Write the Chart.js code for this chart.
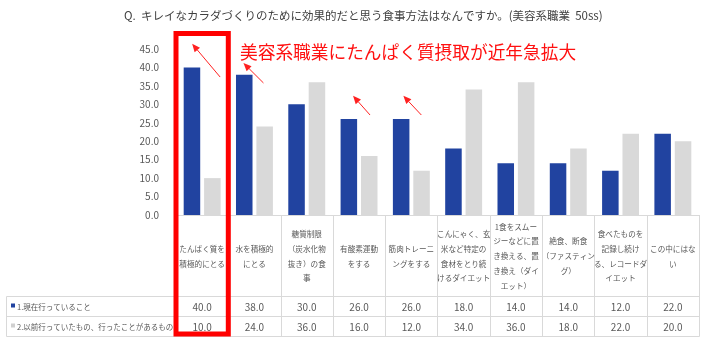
<!DOCTYPE html>
<html>
<head>
<meta charset="utf-8">
<script src="https://cdn.jsdelivr.net/npm/chart.js@4.4.1/dist/chart.umd.min.js"></script>
<style>
html,body{margin:0;padding:0;background:#fff;}
canvas{display:block;}
</style>
</head>
<body>
<canvas id="c" width="710" height="350"></canvas>
<script>
// ---- data ----
const categories = [
  ['たんぱく質を','積極的にとる'],
  ['水を積極的','にとる'],
  ['糖質制限','（炭水化物','抜き）の食','事'],
  ['有酸素運動','をする'],
  ['筋肉トレーニ','ングをする'],
  ['こんにゃく、玄','米など特定の','食材をとり続','けるダイエット'],
  ['1食をスムー','ジーなどに置','き換える、置','き換え（ダイ','エット）'],
  ['絶食、断食','（ファスティン','グ）'],
  ['食べたものを','記録し続け','る、レコードダ','イエット'],
  ['この中にはな','い']
];
const seriesNames = ['1.現在行っていること', '2.以前行っていたもの、行ったことがあるもの'];
const currentValues = [40, 38, 30, 26, 26, 18, 14, 14, 12, 22];
const pastValues = [10, 24, 36, 16, 12, 34, 36, 18, 22, 20];
const titleText = 'Q.  キレイなカラダづくりのために効果的だと思う食事方法はなんですか。(美容系職業  50ss)';
const noteText = '美容系職業にたんぱく質摂取が近年急拡大';

const BLUE = '#2143a0';
const GRAY = '#d9d9d9';
const FONT = '"Noto Sans CJK JP", "Noto Sans", sans-serif';

// arrows: category index, offsets (px) from category centre, values on y scale
const arrows = [
  {cat:0, hx:-10, hv:46.4, tx:18, tv:37.4},
  {cat:1, hx:-11, hv:41.2, tx:9, tv:35.8},
  {cat:3, hx:-6, hv:32.3, tx:11, tv:27.1},
  {cat:4, hx:-8, hv:32.3, tx:10, tv:27.1}
];

const tablePlugin = {
  id: 'tablePlugin',
  afterDraw(chart) {
    const ctx = chart.ctx;
    const xs = chart.scales.x, ys = chart.scales.y;
    const ca = chart.chartArea;
    const n = categories.length;
    const w = (xs.getPixelForValue(1) - xs.getPixelForValue(0));
    const bound = i => xs.getPixelForValue(0) - w/2 + i*w;
    const top = ca.bottom, hdrBottom = 296.5, r1 = 316.5, r2 = 336.5;
    const tableLeft = 6.5;
    ctx.save();
    // grid lines
    ctx.strokeStyle = '#d9d9d9';
    ctx.lineWidth = 1;
    ctx.beginPath();
    for (let i = 0; i <= n; i++) {
      const x = Math.round(bound(i)) + 0.5;
      ctx.moveTo(x, top); ctx.lineTo(x, r2);
    }
    ctx.moveTo(tableLeft, hdrBottom); ctx.lineTo(tableLeft, r2);
    [hdrBottom, r1, r2].forEach(y => { ctx.moveTo(tableLeft, y); ctx.lineTo(Math.round(bound(n))+0.5, y); });
    ctx.stroke();

    // header labels
    ctx.fillStyle = '#595959';
    ctx.textAlign = 'center';
    ctx.textBaseline = 'middle';
    ctx.font = '7.6px ' + FONT;
    const lh = 14.8;
    const midY = (top + hdrBottom) / 2 + 0.5;
    categories.forEach((lines, i) => {
      const cx = xs.getPixelForValue(i);
      const y0 = midY - (lines.length - 1) * lh / 2;
      lines.forEach((l, k) => ctx.fillText(l, cx, y0 + k*lh));
    });

    // values
    ctx.font = '10px ' + FONT;
    const rowY = [(hdrBottom + r1)/2 + 0.5, (r1 + r2)/2 + 0.5];
    [currentValues, pastValues].forEach((vals, r) => {
      vals.forEach((v, i) => ctx.fillText(v.toFixed(1), xs.getPixelForValue(i), rowY[r]));
    });

    // row labels with markers
    ctx.textAlign = 'left';
    ctx.font = '7.5px ' + FONT;
    [BLUE, '#d0d0d0'].forEach((col, r) => {
      ctx.fillStyle = col;
      ctx.fillRect(11, rowY[r] - 3.5, 4, 4);
      ctx.fillStyle = '#595959';
      ctx.fillText(seriesNames[r], 17, rowY[r]);
    });

    // title
    ctx.fillStyle = '#404040';
    ctx.font = '11.5px ' + FONT;
    ctx.textAlign = 'left';
    ctx.fillText(titleText, 124, 15.5);

    // red note
    ctx.fillStyle = '#ff1010';
    ctx.font = '17.7px ' + FONT;
    ctx.fillText(noteText, 240, 52);

    // red box around first category
    ctx.strokeStyle = '#ff0000';
    ctx.lineWidth = 5;
    ctx.strokeRect(bound(0), 33.5, bound(1) - bound(0), 334 - 33.5);

    // arrows
    ctx.strokeStyle = '#ff2020';
    ctx.fillStyle = '#ff2020';
    ctx.lineWidth = 1;
    arrows.forEach(a => {
      const cx = xs.getPixelForValue(a.cat);
      const hx = cx + a.hx, hy = ys.getPixelForValue(a.hv);
      const tx = cx + a.tx, ty = ys.getPixelForValue(a.tv);
      const ang = Math.atan2(hy - ty, hx - tx);
      const L = 8, W = 3.5;
      const bx = hx - L*Math.cos(ang), by = hy - L*Math.sin(ang);
      ctx.beginPath(); ctx.moveTo(tx, ty); ctx.lineTo(bx, by); ctx.stroke();
      ctx.beginPath();
      ctx.moveTo(hx, hy);
      ctx.lineTo(bx + W*Math.sin(ang), by - W*Math.cos(ang));
      ctx.lineTo(bx - W*Math.sin(ang), by + W*Math.cos(ang));
      ctx.closePath(); ctx.fill();
    });
    ctx.restore();
  }
};

new Chart(document.getElementById('c'), {
  type: 'bar',
  data: {
    labels: categories,
    datasets: [
      {label: seriesNames[0], data: currentValues, backgroundColor: BLUE, categoryPercentage: 0.78, barPercentage: 0.81},
      {label: seriesNames[1], data: pastValues, backgroundColor: GRAY, categoryPercentage: 0.78, barPercentage: 0.81}
    ]
  },
  options: {
    responsive: false,
    animation: false,
    devicePixelRatio: 1,
    layout: {padding: {top: 49, right: 11, left: 0, bottom: 0}},
    plugins: {legend: {display: false}, tooltip: {enabled: false}, title: {display: false}},
    scales: {
      x: {
        grid: {display: false},
        border: {display: true, color: '#d9d9d9', width: 1},
        ticks: {display: false},
        afterFit(a) { a.height = 135; }
      },
      y: {
        min: 0, max: 45,
        grid: {display: false},
        border: {display: false},
        ticks: {
          stepSize: 5,
          padding: 9,
          color: '#595959',
          font: {family: FONT, size: 10},
          callback: v => Number(v).toFixed(1)
        },
        afterFit(a) { a.width = 176; }
      }
    }
  },
  plugins: [tablePlugin]
});
</script>
</body>
</html>
